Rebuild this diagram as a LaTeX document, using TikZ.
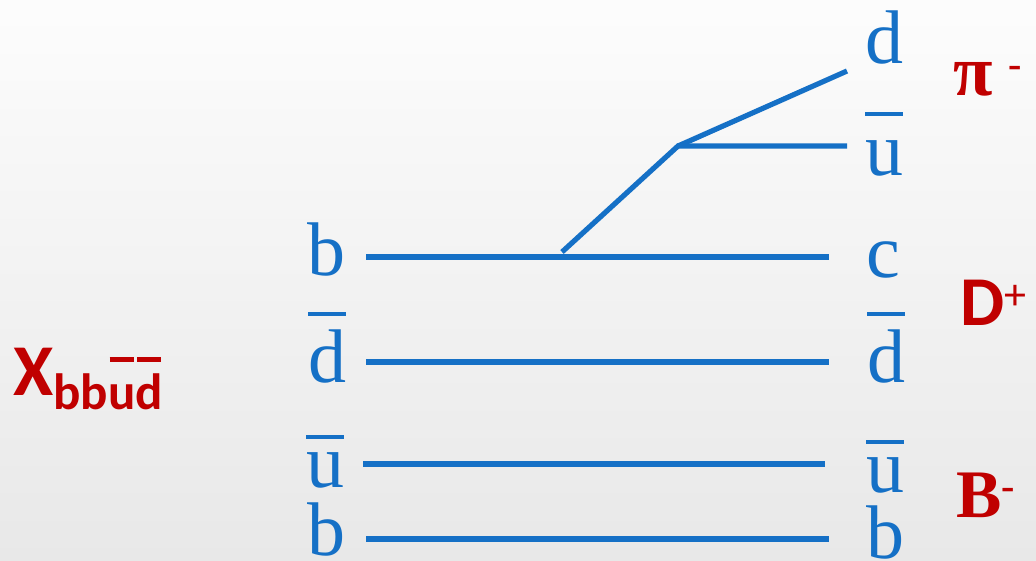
\documentclass[tikz,border=0pt]{standalone}
\usepackage{fontspec}
\setmainfont{Liberation Serif}
\newfontfamily\calib{Carlito}
\definecolor{quarkblue}{RGB}{21,112,198}
\definecolor{mesonred}{RGB}{192,0,0}
% bar over an antiquark, #1 = gap
\newcommand\qbar[2][13pt]{\vbox{\hrule height 4pt\kern #1\hbox{#2}}}
\newsavebox\barbox
\newcommand\subbar[1]{\sbox\barbox{\rlap{\phantom{d}}#1}%
  \vbox{\offinterlineskip
  \hbox to \wd\barbox{\hss\vrule width \dimexpr\wd\barbox-3pt\relax height 5pt\hss}%
  \kern 11pt\copy\barbox}}

\begin{document}
\begin{tikzpicture}[x=1pt,y=-1pt,
  quark/.style={line width=5.2pt, draw=quarkblue},
  qlabel/.style={anchor=base west, inner sep=0pt, text=quarkblue,
    font=\fontsize{76}{76}\selectfont},
  hadron/.style={anchor=base west, inner sep=0pt, text=mesonred}]
  \shade[top color=gray!2, bottom color=gray!18] (0,0) rectangle (1036,560);
  \useasboundingbox (0,0) rectangle (1036,560);

  % initial state
  \node[qlabel] (b1) at (307,275) {b};
  \node[qlabel] (db1) at (308,382) {\qbar{d}};
  \node[qlabel] (ub1) at (306,487) {\qbar{u}};
  \node[qlabel] (b2) at (307,555) {b};

  % final state
  \node[qlabel] (d3) at (865,63) {d};
  \node[qlabel] (ub3) at (865,175) {\qbar[24pt]{u}};
  \node[qlabel] (c3) at (866,277) {c};
  \node[qlabel] (db3) at (867,382) {\qbar{d}};
  \node[qlabel] (ub4) at (866,492) {\qbar{u}};
  \node[qlabel] (b4) at (866,558) {b};

  % hadrons
  \node[hadron] (X) at (13,395) {\calib\bfseries\fontsize{73}{73}\selectfont X%
    \raisebox{-14pt}{\fontsize{51}{51}\selectfont bb\subbar{u}\subbar{d}}};
  \node[hadron] (pi) at (953,95) {\bfseries\fontsize{72}{72}\selectfont π%
    \hspace{16pt}\raisebox{18pt}{\fontsize{40}{40}\selectfont -}};
  \node[hadron] (D) at (960,325) {\calib\bfseries\fontsize{70}{70}\selectfont D%
    \raisebox{16pt}{\mdseries\fontsize{44}{44}\selectfont +}};
  \node[hadron] (B) at (956,517) {\bfseries\fontsize{68}{68}\selectfont B%
    \raisebox{18pt}{\fontsize{40}{40}\selectfont -}};

  % quark lines
  \coordinate (bL) at (366,257);  \coordinate (bR) at (829,257);
  \coordinate (dL) at (366,362);  \coordinate (dR) at (829,362);
  \coordinate (uL) at (363,464);  \coordinate (uR) at (825,464);
  \coordinate (bbL) at (366,539); \coordinate (bbR) at (829,539);
  \coordinate (s) at (562,252);   \coordinate (w) at (678,146);
  \coordinate (dEnd) at (847,71); \coordinate (uEnd) at (847,146);

  \draw[quark] (bL) -- (bR);
  \draw[quark] (dL) -- (dR);
  \draw[quark] (uL) -- (uR);
  \draw[quark] (bbL) -- (bbR);
  \draw[quark] (s) -- (w) -- (uEnd);
  \draw[quark] (w) -- (dEnd);
\end{tikzpicture}
\end{document}
